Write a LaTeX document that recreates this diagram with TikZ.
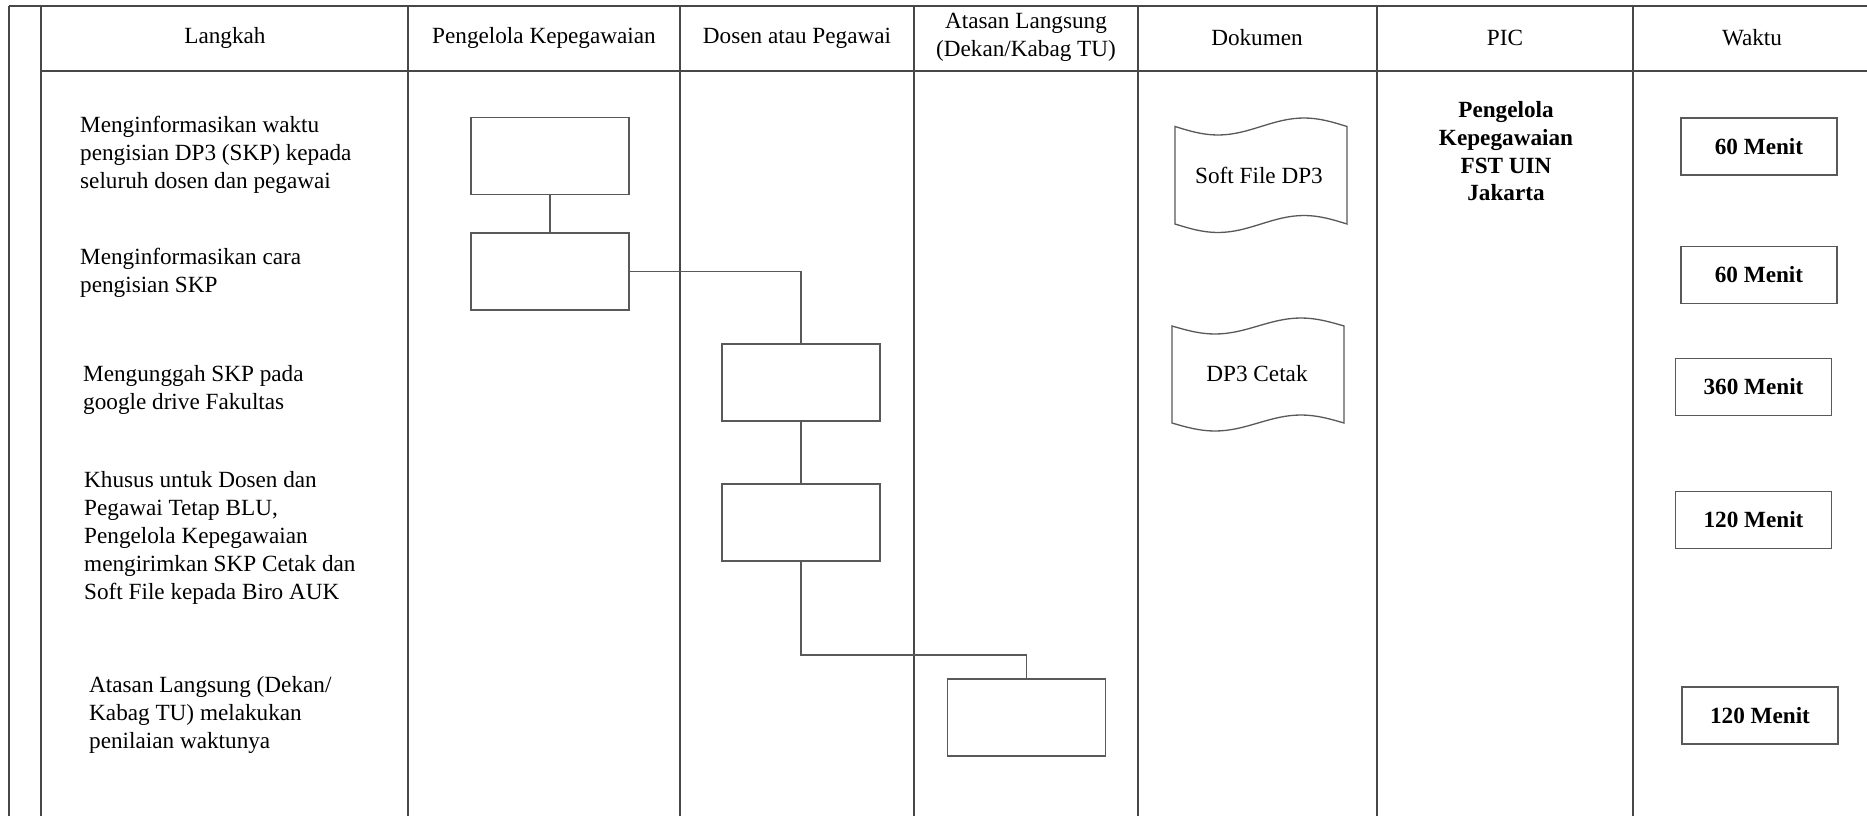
\documentclass[tikz,border=0pt]{standalone}
\usepackage{fontspec}
\setmainfont{Liberation Serif}
\begin{document}
\begin{tikzpicture}[x=1pt,y=-1pt,
  font=\fontsize{23.2}{28}\selectfont,
  grid/.style={draw=black!72,line width=1.7pt},
  procbox/.style={draw=black!65,line width=1.3pt,minimum width=158pt,minimum height=77pt,inner sep=0pt},
  timebox/.style={draw=black!65,line width=1.3pt,minimum width=156pt,minimum height=57pt,inner sep=0pt,font=\fontsize{23.2}{28}\selectfont\bfseries},
  steptext/.style={anchor=west,align=left,inner sep=0pt},
  head/.style={align=center,inner sep=0pt},
  link/.style={draw=black!65,line width=1.3pt},
  doc/.style={draw=black!65,line width=1.3pt}]
\useasboundingbox (0,0) rectangle (1867,816);
\fill[white] (0,0) rectangle (1867,816);

% frame and table grid
\draw[grid] (9,5.7) -- (9,816);
\draw[grid] (9,5.7) -- (1867,5.7);
\draw[grid] (41.3,5.7) -- (41.3,816);
\draw[grid] (41.3,71) -- (1867,71);
\foreach \xx in {408,680,914,1138,1377,1633}
  \draw[grid] (\xx,5.7) -- (\xx,816);

% headers
\node[head] (hL) at (225,38) {Langkah};
\node[head] (hP) at (544,38) {Pengelola Kepegawaian};
\node[head] (hD) at (797,38) {Dosen atau Pegawai};
\node[head] (hA) at (1026,37) {Atasan Langsung\\(Dekan/Kabag TU)};
\node[head] (hK) at (1257,38) {Dokumen};
\node[head] (hC) at (1505,38) {PIC};
\node[head] (hW) at (1752,38) {Waktu};

% steps
\node[steptext] (s1) at (80,155) {Menginformasikan waktu\\pengisian DP3 (SKP) kepada\\seluruh dosen dan pegawai};
\node[steptext] (s2) at (80,272.5) {Menginformasikan cara\\pengisian SKP};
\node[steptext] (s3) at (83,389.5) {Mengunggah SKP pada\\google drive Fakultas};
\node[steptext] (s4) at (84,537.5) {Khusus untuk Dosen dan\\Pegawai Tetap BLU,\\Pengelola Kepegawaian\\mengirimkan SKP Cetak dan\\Soft File kepada Biro AUK};
\node[steptext] (s5) at (89,715) {Atasan Langsung (Dekan/\\Kabag TU) melakukan\\penilaian waktunya};

% process boxes
\node[procbox] (b1) at (550,156) {};
\node[procbox] (b2) at (550,271.5) {};
\node[procbox] (b3) at (801,382.5) {};
\node[procbox] (b4) at (801,522.5) {};
\node[procbox] (b5) at (1026.5,717.5) {};
\coordinate (j) at (1026.5,655);

\draw[link] (b1.south) -- (b2.north);
\draw[link] (b2.east) -| (b3.north);
\draw[link] (b3.south) -- (b4.north);
\draw[link] (b4.south) |- (j) -- (b5.north);

% documents (punched tape)
\draw[doc] (1175,126.5) sin (1218,135) cos (1261,126.5) sin (1304,118) cos (1347,126.5)
  -- (1347,224) sin (1304,215.5) cos (1261,224) sin (1218,232.5) cos (1175,224) -- cycle;
\node[inner sep=0pt] (d1) at (1259,175) {Soft File DP3};
\draw[doc] (1172,326) sin (1215,334) cos (1258,326) sin (1301,318) cos (1344,326)
  -- (1344,423) sin (1301,415) cos (1258,423) sin (1215,431) cos (1172,423) -- cycle;
\node[inner sep=0pt] (d2) at (1257,374) {DP3 Cetak};

% PIC
\node[head,font=\fontsize{23.2}{27.7}\selectfont\bfseries] (pic) at (1506,151.5) {Pengelola\\Kepegawaian\\FST UIN\\Jakarta};

% time boxes
\node[timebox] (w1) at (1759,146.5) {60 Menit};
\node[timebox] (w2) at (1759,275) {60 Menit};
\node[timebox] (w3) at (1753.5,387) {360 Menit};
\node[timebox] (w4) at (1753.5,520) {120 Menit};
\node[timebox] (w5) at (1760,715.5) {120 Menit};
\end{tikzpicture}
\end{document}
